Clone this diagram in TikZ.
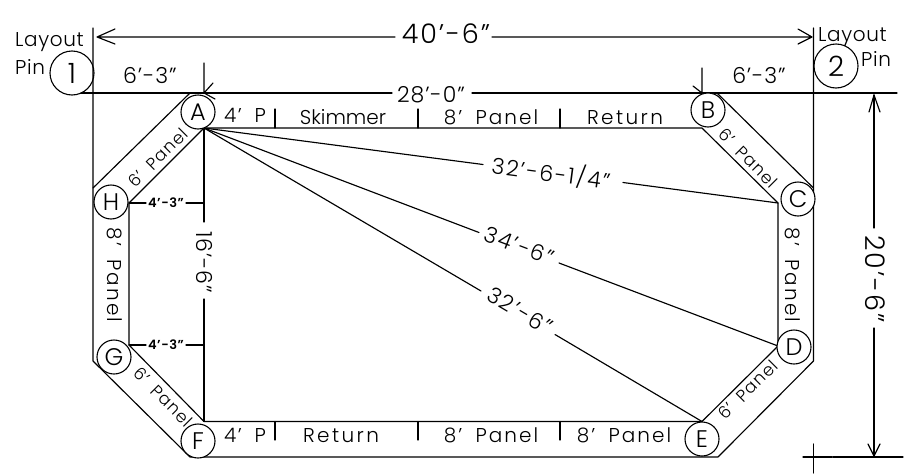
\documentclass[tikz,border=0pt]{standalone}
\usepackage{fontspec}
\setmainfont[UprightFont=* Light,WordSpace=1.8]{Poppins}
\tikzset{
  x=1pt,y=-1pt,
  ln/.style={line width=1.15pt,line cap=round,line join=round},
  pt/.style={draw,circle,fill=white,line width=1.1pt,minimum size=34pt,inner sep=0pt,text height=17pt,text depth=0pt,font=\fontsize{24}{24}\selectfont},
  pin/.style={pt,minimum size=44pt,fill=none,text height=20pt,font=\fontsize{28}{28}\selectfont},
  lab/.style={inner sep=0pt,text height=14pt,text depth=0pt,font=\fontsize{20}{20}\selectfont\addfontfeature{LetterSpace=#1}},
  lab/.default=10,
  num/.style={inner sep=0pt,text height=15.4pt,text depth=0pt,font=\fontsize{22}{22}\selectfont\addfontfeature{LetterSpace=#1}},
  num/.default=4,
  sm/.style={inner sep=0pt,text height=12pt,text depth=0pt,font=\fontsize{17}{17}\selectfont\addfontfeature{LetterSpace=6}},
  tiny/.style={inner sep=0pt,text height=9pt,text depth=0pt,font=\fontsize{13}{13}\selectfont\bfseries\addfontfeature{LetterSpace=4}},
  big/.style={inner sep=0pt,text height=19pt,text depth=0pt,font=\fontsize{27}{27}\selectfont\addfontfeature{LetterSpace=7}},
}
\begin{document}
\begin{tikzpicture}
\useasboundingbox (0,0) rectangle (915,474);
\foreach \n/\x/\y in {ot1/190/93,ot2/717/93,or1/813.5/188,or2/813.5/361,ob1/718/457,ob2/190/457,ol1/93/361,ol2/93/188,
 ia/204/128,ib/702/128,ic/778/203,id/778/346,ie/702/421.5,if/204/421.5,ig/129/345,ih/129/203,
 etl/93/28,etr/813.5/28,dl/97/37,dr/812/37,dlb/395/37,drb/492/37,
 dla/115/29,dlc/115/44,dra/798/29,drc/798/44,
 hl/81/93,hr/897/93,hg1/392/93,hg2/472/93,ca/204/93,cb/702/93,ta/204/63,tb/702/68,
 aa/213/83,ab/215/99,ba/693/86,
 r1/874/95,r2/874/456,r3/874/328,r4/874/228,r1a/869/112,r1b/880/112,r2a/868/444,r2b/880/444,
 xa/803/457,xb/832/457,xc/833/457,xd/903/457,xe/813.5/444,xf/813.5/473,
 v1/204/222,v2/204/299,h1r/204/203,g1r/204/345,h1a/146/203,h1b/186/203,g1a/146/345,g1b/186/345,
 d1a/483/164.5,d1b/623/182.5,d2a/479/232.5,d2b/559/263,d3a/481/291,d3b/555/334.5,
 t1/275/109,t1b/275/128,t2/418/109,t2b/418/128,t3/560/109,t3b/560/128,
 u1/275/421.5,u1b/275/440,u2/418/421.5,u2b/418/440,u3/560/421.5,u3b/560/440}
 {\coordinate (\n) at (\x,\y);}
% outer outline
\draw[ln] (etl)--(ol1)--(ob2)--(ob1)--(or2)--(etr);
\draw[ln] (hl)--(hg1) (hg2)--(hr);
\draw[ln] (ot1)--(ol2) (ot2)--(or1);
% inner outline
\draw[ln] (ia)--(ib)--(ic)--(id)--(ie)--(if)--(ig)--(ih)--cycle;
% overall dimension
\draw[ln] (dl)--(dlb) (drb)--(dr) (dla)--(dl)--(dlc) (dra)--(dr)--(drc);
\node[big] (t40) at (446,34) {40'-6"};
% 28 dim ticks
\draw[ln] (ta)--(ca) (aa)--(ca)--(ab);
\draw[ln] (tb)--(cb) (ba)--(cb);
\node[num] (t28) at (431,95) {28'-0"};
\node[num] (t63a) at (150,75.5) {6'-3"};
\node[num] (t63b) at (759,75.5) {6'-3"};
% right dim
\draw[ln] (r1)--(r4) (r3)--(r2);
\draw[ln] (r1a)--(r1)--(r1b) (r2a)--(r2)--(r2b);
\node[big,rotate=-90] (t20) at (875,279) {20'-6"};
\draw[ln] (xa)--(xb) (xc)--(xd) (xe)--(xf);
% centre
\draw[ln] (ia)--(v1) (v2)--(if);
\node[num,rotate=-90] (t16) at (204,262) {16'-6"};
\draw[ln] (ih)--(h1a) (h1b)--(h1r) (ig)--(g1a) (g1b)--(g1r);
\node[tiny] (h43) at (166,203) {4'-3"};
\node[tiny] (g43) at (166,345) {4'-3"};
% diagonals
\draw[ln] (ia)--(d1a) (d1b)--(ic);
\draw[ln] (ia)--(d2a) (d2b)--(id);
\draw[ln] (ia)--(d3a) (d3b)--(ie);
\node[num=8,rotate=-7.5] (t32a) at (551,174) {32'-6-1/4"};
\node[num=8,rotate=-20.8] (t34) at (519,246) {34'-6"};
\node[num=8,rotate=-30.5] (t32b) at (520,311) {32'-6"};
% panel ticks
\draw[ln] (t1)--(t1b) (t2)--(t2b) (t3)--(t3b) (u1)--(u1b) (u2)--(u2b) (u3)--(u3b);
\node[lab=8] (ta4) at (245,115.5) {4' P};
\node[lab=0] (tsk) at (343,117) {Skimmer};
\node[lab] (ta8) at (491,117) {8' Panel};
\node[lab=12] (tre) at (625,117) {Return};
\node[lab=8] (tf4) at (245,435.5) {4' P};
\node[lab=12] (trb) at (341,435.5) {Return};
\node[lab] (t8a) at (491,435.5) {8' Panel};
\node[lab] (t8b) at (624,435.5) {8' Panel};
% side panels
\node[lab,rotate=-90] (tl8) at (114,275) {8' Panel};
\node[lab,rotate=-90] (tr8) at (792,275) {8' Panel};
\node[sm,rotate=45] (p1) at (158,158) {6' Panel};
\node[sm,rotate=-45] (p2) at (748,158) {6' Panel};
\node[sm,rotate=45] (p3) at (748,390) {6' Panel};
\node[sm,rotate=-45] (p4) at (163,397) {6' Panel};
% circles
\node[pt] (A) at (198,112) {A};
\node[pt] (B) at (708,110) {B};
\node[pt] (C) at (798,199) {C};
\node[pt] (D) at (794,347) {D};
\node[pt] (E) at (702,439) {E};
\node[pt] (F) at (198,441) {F};
\node[pt] (G) at (114,357) {G};
\node[pt] (H) at (111,202) {H};
\node[pin] (P1) at (72,73) {1};
\node[pin] (P2) at (836,66) {2};
\node[lab=3,anchor=west] (l1) at (15,39) {Layout};
\node[lab=3,anchor=west] (l1b) at (15,67.5) {Pin};
\node[lab=3,anchor=west] (l2) at (818,34) {Layout};
\node[lab=3,anchor=west] (l2b) at (861,59.5) {Pin};
\end{tikzpicture}
\end{document}
